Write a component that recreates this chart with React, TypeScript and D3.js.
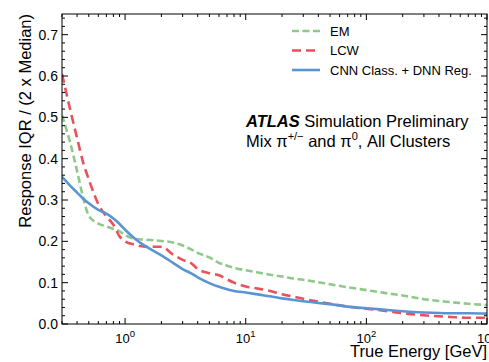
import React, { useMemo } from 'react';
import * as d3 from 'd3';

// energies in GeV, shared by all three series
const energies = [0.3, 0.35, 0.4, 0.45, 0.5, 0.6, 0.7, 0.8, 0.9, 1.0, 1.2, 1.5, 2, 2.5, 3, 3.5, 4, 5, 6, 7, 8, 10, 13, 16, 20, 25, 30, 40, 50, 70, 100, 150, 200, 300, 500, 700, 1000];

const emValues = [0.505, 0.44, 0.37, 0.305, 0.262, 0.243, 0.236, 0.23, 0.224, 0.215, 0.206, 0.204, 0.201, 0.197, 0.19, 0.181, 0.172, 0.161, 0.148, 0.141, 0.136, 0.13, 0.124, 0.119, 0.115, 0.11, 0.107, 0.101, 0.096, 0.089, 0.082, 0.074, 0.069, 0.06, 0.053, 0.049, 0.046];
const lcwValues = [0.605, 0.52, 0.45, 0.39, 0.35, 0.29, 0.26, 0.24, 0.212, 0.2, 0.192, 0.187, 0.187, 0.168, 0.155, 0.148, 0.133, 0.123, 0.118, 0.108, 0.1, 0.091, 0.085, 0.08, 0.072, 0.066, 0.061, 0.054, 0.049, 0.042, 0.037, 0.031, 0.026, 0.021, 0.017, 0.015, 0.015];
const cnnValues = [0.356, 0.335, 0.318, 0.303, 0.292, 0.276, 0.267, 0.255, 0.242, 0.228, 0.207, 0.187, 0.166, 0.148, 0.133, 0.123, 0.113, 0.099, 0.09, 0.084, 0.08, 0.076, 0.071, 0.067, 0.062, 0.058, 0.055, 0.051, 0.048, 0.042, 0.038, 0.034, 0.031, 0.028, 0.026, 0.026, 0.025];

const seriesNames = ['EM', 'LCW', 'CNN Class. + DNN Reg.'];
const yTickLabels = ['0.0', '0.1', '0.2', '0.3', '0.4', '0.5', '0.6', '0.7'];
const xMajorExponents = [0, 1, 2, 3];

const SERIES = [
  { name: seriesNames[0], values: emValues, color: '#8fc98a', dash: '7,3.5' },
  { name: seriesNames[1], values: lcwValues, color: '#e8525a', dash: '9,5' },
  { name: seriesNames[2], values: cnnValues, color: '#5a95d2', dash: null as string | null },
];

const WIDTH = 489;
const HEIGHT = 362;
const margin = { top: 14, right: 2, bottom: 38, left: 62 };
const FONT = '"Liberation Sans", Arial, Helvetica, sans-serif';

const App: React.FC = () => {
  const innerWidth = WIDTH - margin.left - margin.right;
  const innerHeight = HEIGHT - margin.top - margin.bottom;

  const x = useMemo(() => d3.scaleLog().domain([0.3, 1000]).range([0, innerWidth]), [innerWidth]);
  const y = useMemo(() => d3.scaleLinear().domain([0, 0.75]).range([innerHeight, 0]), [innerHeight]);

  const line = d3.line<[number, number]>()
    .x(d => x(d[0]))
    .y(d => y(d[1]))
    .curve(d3.curveMonotoneX);

  // minor ticks on log axis
  const xMinor: number[] = [];
  for (let e = -1; e <= 2; e++) {
    for (let m = 2; m <= 9; m++) {
      const v = m * Math.pow(10, e);
      if (v >= 0.3 && v <= 1000) xMinor.push(v);
    }
  }
  const xMajor = xMajorExponents.map(e => Math.pow(10, e));
  const yMinor = d3.range(0, 76, 2).map(v => v / 100).filter(v => Math.round(v * 100) % 10 !== 0);
  const yMajor = yTickLabels.map(Number);

  const tickColor = '#000';

  return (
    <svg
      width={WIDTH}
      height={HEIGHT}
      style={{ position: 'absolute', left: 0, top: 0, background: '#fff' }}
      fontFamily={FONT}
    >
      <defs>
        <clipPath id="plot-clip">
          <rect x={0} y={0} width={innerWidth} height={innerHeight} />
        </clipPath>
      </defs>
      <g transform={`translate(${margin.left}, ${margin.top})`}>
        {/* Curves */}
        <g clipPath="url(#plot-clip)">
          {SERIES.map(s => (
            <path
              key={s.name}
              d={line(energies.map((e, i) => [e, s.values[i]] as [number, number])) || ''}
              fill="none"
              stroke={s.color}
              strokeWidth={2.6}
              strokeDasharray={s.dash || undefined}
            />
          ))}
        </g>

        {/* Frame */}
        <rect x={0} y={0} width={innerWidth} height={innerHeight} fill="none" stroke={tickColor} strokeWidth={1} />

        {/* X ticks, bottom and top */}
        {xMajor.map(t => (
          <g key={`xM-${t}`} transform={`translate(${x(t)}, 0)`}>
            <line y1={innerHeight} y2={innerHeight - 6} stroke={tickColor} />
            <line y1={0} y2={6} stroke={tickColor} />
          </g>
        ))}
        {xMinor.map(t => (
          <g key={`xm-${t}`} transform={`translate(${x(t)}, 0)`}>
            <line y1={innerHeight} y2={innerHeight - 3} stroke={tickColor} />
            <line y1={0} y2={3} stroke={tickColor} />
          </g>
        ))}
        {xMajorExponents.map(e => (
          <text
            key={`xl-${e}`}
            x={x(Math.pow(10, e))}
            y={innerHeight + 19}
            textAnchor="middle"
            fontSize={13}
            fill="#000"
          >
            10<tspan dy={-6} fontSize={9.5}>{e}</tspan>
          </text>
        ))}

        {/* Y ticks, left and right */}
        {yMajor.map((t, i) => (
          <g key={`yM-${t}`} transform={`translate(0, ${y(t)})`}>
            <line x1={0} x2={6} stroke={tickColor} />
            <line x1={innerWidth} x2={innerWidth - 6} stroke={tickColor} />
            <text x={-4} dy="0.35em" textAnchor="end" fontSize={14} fill="#000">
              {yTickLabels[i]}
            </text>
          </g>
        ))}
        {yMinor.map(t => (
          <g key={`ym-${t}`} transform={`translate(0, ${y(t)})`}>
            <line x1={0} x2={3} stroke={tickColor} />
            <line x1={innerWidth} x2={innerWidth - 3} stroke={tickColor} />
          </g>
        ))}

        {/* Axis titles */}
        <text
          x={innerWidth}
          y={innerHeight + 33}
          textAnchor="end"
          fontSize={16.5}
          fill="#000"
        >
          True Energy [GeV]
        </text>
        <text
          transform="rotate(-90)"
          x={0}
          y={-31}
          textAnchor="end"
          fontSize={16.5}
          fill="#000"
        >
          Response IQR / (2 x Median)
        </text>

        {/* Legend */}
        <g transform={`translate(${230}, ${17})`}>
          {SERIES.map((s, i) => (
            <g key={`leg-${s.name}`} transform={`translate(0, ${i * 19.5})`}>
              <line
                x1={0}
                x2={28}
                y1={0}
                y2={0}
                stroke={s.color}
                strokeWidth={2.6}
                strokeDasharray={s.dash || undefined}
              />
              <text x={38} dy="0.36em" fontSize={13} fill="#000">{s.name}</text>
            </g>
          ))}
        </g>

        {/* ATLAS label */}
        <text x={184} y={113} fontSize={16.5} fill="#000">
          <tspan fontWeight="bold" fontStyle="italic">ATLAS</tspan> Simulation Preliminary
        </text>
        <text x={184} y={132.5} fontSize={16.5} fill="#000">
          Mix π<tspan dy={-7} fontSize={11}>+/−</tspan>
          <tspan dy={7}> and π</tspan>
          <tspan dy={-7} fontSize={11}>0</tspan>
          <tspan dy={7}>, All Clusters</tspan>
        </text>
      </g>
    </svg>
  );
};

export default App;
